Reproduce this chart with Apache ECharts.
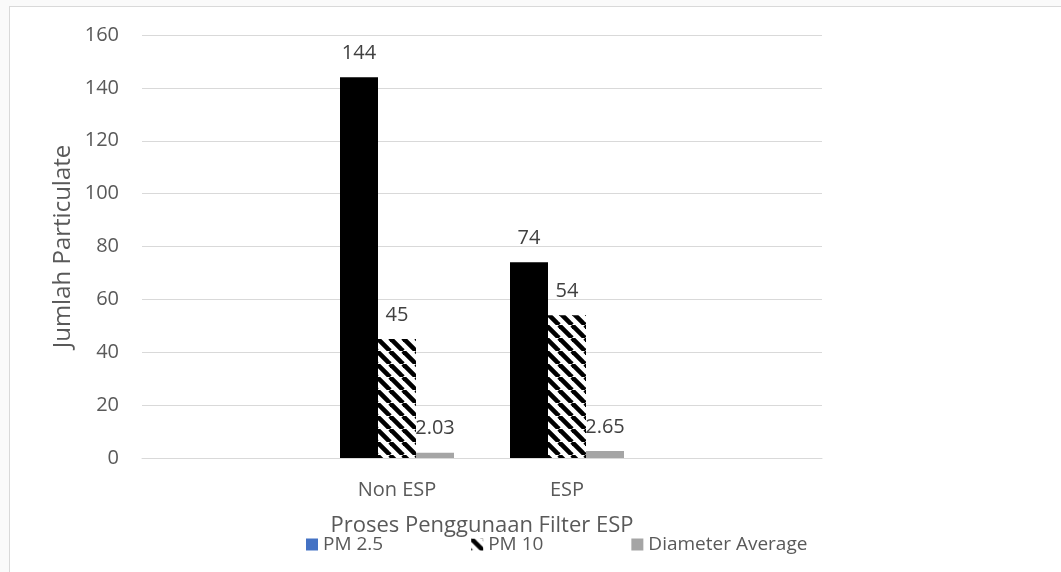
<!DOCTYPE html>
<html>
<head>
<meta charset="utf-8">
<script src="https://cdn.jsdelivr.net/npm/echarts@6/dist/echarts.min.js"></script>
<style>
  html, body { margin: 0; padding: 0; background: #fafafa; }
  #frame {
    position: absolute; left: 9px; top: 6px; width: 1060px; height: 570px;
    background: #fff; border: 1px solid #d9d9d9;
  }
  #chart { position: absolute; left: 0; top: 0; width: 1061px; height: 572px; }
</style>
</head>
<body>
<div id="frame"></div>
<div id="chart"></div>
<script>
// Data (empty outer categories keep the two groups centred like the source)
const categories = ["", "Non ESP", "ESP", ""];
const pm25 = [null, 144, 74, null];
const pm10 = [null, 45, 54, null];
const diameterAvg = [null, 2.03, 2.65, null];

const FONT = "'Open Sans', sans-serif";
const TEXT = "#595959";
const GRID_LINE = "#d9d9d9";

// backslash hatch for PM 10
function hatch() {
  const s = 13;
  const c = document.createElement("canvas");
  c.width = s; c.height = s;
  const g = c.getContext("2d");
  g.fillStyle = "#fff";
  g.fillRect(0, 0, s, s);
  g.strokeStyle = "#000";
  g.lineWidth = 4.6;
  for (const x0 of [-s, 0, s]) {
    g.beginPath();
    g.moveTo(x0, 0);
    g.lineTo(x0 + s, s);
    g.stroke();
  }
  return c;
}

const label = {
  show: true,
  position: "top",
  distance: 14,
  fontFamily: FONT,
  fontSize: 20,
  color: "#404040",
  formatter: p => (p.value == null ? "" : String(p.value))
};

const chart = echarts.init(document.getElementById("chart"), null, { renderer: "canvas" });

chart.setOption({
  animation: false,
  backgroundColor: "rgba(0,0,0,0)",
  textStyle: { fontFamily: FONT },
  grid: { left: 142, right: 239, top: 35, bottom: 114, containLabel: false },
  legend: {
    left: 306,
    top: 535,
    padding: 0,
    icon: "rect",
    itemWidth: 12,
    itemHeight: 12,
    itemGap: 88,
    textStyle: { fontFamily: FONT, fontSize: 19, color: TEXT },
    data: ["PM 2.5", "PM 10", "Diameter Average"]
  },
  xAxis: {
    type: "category",
    data: categories,
    axisTick: { show: false },
    axisLine: { lineStyle: { color: GRID_LINE, width: 1 } },
    axisLabel: { fontFamily: FONT, fontSize: 20, color: TEXT, margin: 22 },
    name: "Proses Penggunaan Filter ESP",
    nameLocation: "middle",
    nameGap: 57,
    nameMoveOverlap: false,
    nameTextStyle: { fontFamily: FONT, fontSize: 22, color: TEXT }
  },
  yAxis: {
    type: "value",
    min: 0,
    max: 160,
    interval: 20,
    axisLine: { show: false },
    axisTick: { show: false },
    axisLabel: { fontFamily: FONT, fontSize: 20, color: TEXT, margin: 23 },
    splitLine: { lineStyle: { color: GRID_LINE, width: 1 } },
    name: "Jumlah Particulate",
    nameLocation: "middle",
    nameGap: 67,
    nameMoveOverlap: false,
    nameTextStyle: { fontFamily: FONT, fontSize: 24, color: TEXT }
  },
  series: [
    {
      name: "PM 2.5",
      type: "bar",
      barWidth: 38,
      barGap: "0%",
      itemStyle: { color: "#4472c4" },
      // bars are drawn black, legend keeps the blue swatch
      data: pm25.map(v => ({ value: v, itemStyle: { color: "#000" } })),
      label: label
    },
    {
      name: "PM 10",
      type: "bar",
      barWidth: 38,
      barGap: "0%",
      itemStyle: { color: { image: hatch(), repeat: "repeat" } },
      data: pm10,
      label: label
    },
    {
      name: "Diameter Average",
      type: "bar",
      barWidth: 38,
      barGap: "0%",
      itemStyle: { color: "#a5a5a5" },
      data: diameterAvg,
      label: label
    }
  ]
});
</script>
</body>
</html>
